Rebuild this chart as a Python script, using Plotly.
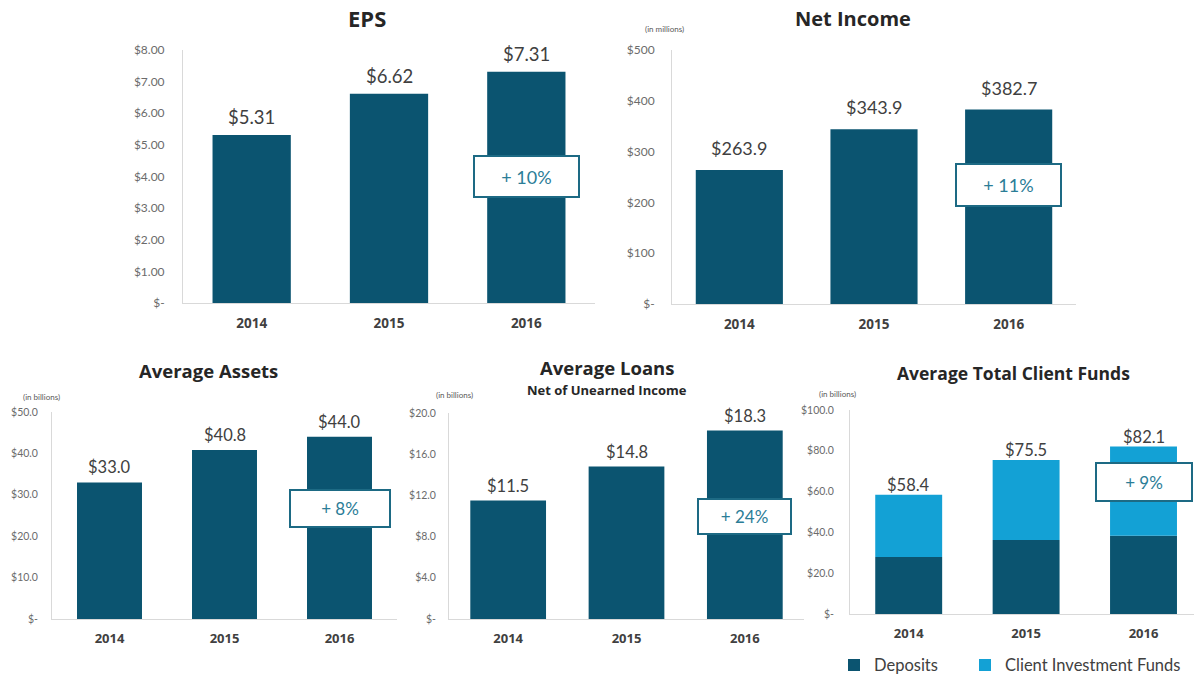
import plotly.graph_objects as go

W, H = 1194, 678

years = ["2014", "2015", "2016"]
eps = [5.31, 6.62, 7.31]
net_income = [263.9, 343.9, 382.7]
avg_assets = [33.0, 40.8, 44.0]
avg_loans = [11.5, 14.8, 18.3]
deposits = [28.0, 36.3, 38.4]
client_inv = [30.4, 39.2, 43.7]

eps_ticks = [0, 1, 2, 3, 4, 5, 6, 7, 8]
eps_tick_text = ["$-", "$1.00", "$2.00", "$3.00", "$4.00", "$5.00", "$6.00", "$7.00", "$8.00"]
ni_ticks = [0, 100, 200, 300, 400, 500]
ni_tick_text = ["$-", "$100", "$200", "$300", "$400", "$500"]
aa_ticks = [0, 10, 20, 30, 40, 50]
aa_tick_text = ["$-", "$10.0", "$20.0", "$30.0", "$40.0", "$50.0"]
al_ticks = [0, 4, 8, 12, 16, 20]
al_tick_text = ["$-", "$4.0", "$8.0", "$12.0", "$16.0", "$20.0"]
cf_ticks = [0, 20, 40, 60, 80, 100]
cf_tick_text = ["$-", "$20.0", "$40.0", "$60.0", "$80.0", "$100.0"]

eps_labels = ["$5.31", "$6.62", "$7.31"]
ni_labels = ["$263.9", "$343.9", "$382.7"]
aa_labels = ["$33.0", "$40.8", "$44.0"]
al_labels = ["$11.5", "$14.8", "$18.3"]
cf_labels = ["$58.4", "$75.5", "$82.1"]

growth = ["+ 10%", "+ 11%", "+ 8%", "+ 24%", "+ 9%"]

DARK = "#0b5470"
LIGHT = "#13a1d5"
TXT = "#404040"
TICK = "#6b6b6b"
AXLINE = "#d9d9d9"
BOX = "#1d6a84"
BOXTXT = "#2b7d97"
FONT = "Lato, 'Open Sans', sans-serif"
BOLDFONT = "'Open Sans', sans-serif"


def xd(a, b):
    return [a / W, b / W]


def yd(top, bottom):
    return [1 - bottom / H, 1 - top / H]


panels = [
    # key, x domain, y domain, y range, tick vals, tick text, x range, tick size, standoff
    ("", xd(183, 595), yd(50, 303), [0, 8], eps_ticks, eps_tick_text, [-0.5, 2.5], 12, 15),
    ("2", xd(672, 1076), yd(50, 304), [0, 500], ni_ticks, ni_tick_text, [-0.5, 2.5], 12, 14),
    ("3", xd(52, 397), yd(412, 619), [0, 50], aa_ticks, aa_tick_text, [-0.5, 2.5], 10.5, 11),
    ("4", xd(449, 804), yd(413, 619), [0, 20], al_ticks, al_tick_text, [-0.5, 2.5], 10.5, 10),
    ("5", xd(850, 1194), yd(410, 614), [0, 100], cf_ticks, cf_tick_text, [-0.5, 2.43], 10.5, 13),
]

fig = go.Figure()

common = dict(marker_line_width=0)
fig.add_trace(go.Bar(x=[0, 1, 2], y=eps, marker_color=DARK, width=0.57, showlegend=False,
                     xaxis="x", yaxis="y", **common))
fig.add_trace(go.Bar(x=[0, 1, 2], y=net_income, marker_color=DARK, width=0.647, showlegend=False,
                     xaxis="x2", yaxis="y2", **common))
fig.add_trace(go.Bar(x=[0, 1, 2], y=avg_assets, marker_color=DARK, width=0.565, showlegend=False,
                     xaxis="x3", yaxis="y3", **common))
fig.add_trace(go.Bar(x=[0, 1, 2], y=avg_loans, marker_color=DARK, width=0.64, showlegend=False,
                     xaxis="x4", yaxis="y4", **common))
fig.add_trace(go.Bar(x=[0, 1, 2], y=deposits, marker_color=DARK, width=0.57, name="Deposits",
                     xaxis="x5", yaxis="y5", legend="legend", **common))
fig.add_trace(go.Bar(x=[0, 1, 2], y=client_inv, base=deposits, marker_color=LIGHT, width=0.57,
                     name="Client Investment Funds", xaxis="x5", yaxis="y5", legend="legend2",
                     **common))

leg_common = dict(orientation="h", xanchor="left", yanchor="bottom", y=-0.007,
                  font=dict(size=16.5, color=TXT, family=FONT), itemwidth=30,
                  bgcolor="rgba(0,0,0,0)", borderwidth=0)

layout = dict(
    width=W, height=H,
    margin=dict(l=0, r=0, t=0, b=0, autoexpand=False),
    paper_bgcolor="white", plot_bgcolor="white",
    barmode="overlay",
    font=dict(family=FONT, color=TXT),
    showlegend=True,
    legend=dict(x=834 / W, **leg_common),
    legend2=dict(x=965 / W, **leg_common),
)

for key, xdom, ydom, yr, tv, tt, xr, tsize, standoff in panels:
    top = key in ("", "2")
    layout["xaxis" + key] = dict(
        domain=xdom, range=xr, anchor="y" + key, tickmode="array", tickvals=[0, 1, 2],
        ticktext=years, showgrid=False, zeroline=False, showline=True, linecolor=AXLINE,
        linewidth=1, ticks="", automargin=False,
        tickfont=dict(size=13.5 if top else 13, color=TXT, family=BOLDFONT, weight="bold"),
        ticklabelstandoff=8 if top else 7,
        fixedrange=True,
    )
    layout["yaxis" + key] = dict(
        domain=ydom, range=yr, anchor="x" + key, tickmode="array", tickvals=tv, ticktext=tt,
        showgrid=False, zeroline=False, showline=True, linecolor=AXLINE, linewidth=1,
        ticks="", automargin=False, tickfont=dict(size=tsize, color=TICK, family=FONT),
        ticklabelstandoff=standoff, fixedrange=True,
    )

fig.update_layout(**layout)

ann = []


def add_vals(key, vals, labels, size, shift):
    for i, (v, lab) in enumerate(zip(vals, labels)):
        ann.append(dict(x=i, y=v, xref="x" + key, yref="y" + key, text=lab, showarrow=False,
                        yanchor="bottom", yshift=shift,
                        font=dict(size=size, color=TXT, family=FONT)))


add_vals("", eps, eps_labels, 18.5, 5)
add_vals("2", net_income, ni_labels, 18, 9)
add_vals("3", avg_assets, aa_labels, 16.5, 3)
add_vals("4", avg_loans, al_labels, 16.5, 3)
totals = [d + c for d, c in zip(deposits, client_inv)]
add_vals("5", totals, cf_labels, 16.5, -2)

# growth boxes: axis key, y centre, inner width, inner height, font size
boxes = [
    ("", 4.0, 103, 39, 18),
    ("2", 234, 103, 40, 18),
    ("3", 26.7, 98, 35, 17),
    ("4", 9.95, 91, 33, 17),
    ("5", 64.7, 94, 36, 17),
]
for (key, yv, bw, bh, fs), g in zip(boxes, growth):
    ann.append(dict(x=2, y=yv, xref="x" + key, yref="y" + key, text=g, showarrow=False,
                    width=bw, height=bh, bgcolor="white", bordercolor=BOX, borderwidth=2,
                    borderpad=0, align="center", valign="middle",
                    font=dict(size=fs, color=BOXTXT, family=FONT)))


def title(text, x, y, size):
    ann.append(dict(x=x / W, y=1 - y / H, xref="paper", yref="paper", text=text,
                    showarrow=False, xanchor="center", yanchor="middle",
                    font=dict(size=size, color="#262626", family=BOLDFONT, weight="bold")))


title("EPS", 367, 18, 22)
title("Net Income", 853, 18, 20)
title("Average Assets", 208, 370, 18.5)
title("Average Loans", 607, 367, 18.5)
title("Net of Unearned Income", 607, 390, 13)
title("Average Total Client Funds", 1013, 373, 17.5)


def small(text, x, y):
    ann.append(dict(x=x / W, y=1 - y / H, xref="paper", yref="paper", text=text,
                    showarrow=False, xanchor="center", yanchor="middle",
                    font=dict(size=8, color="#595959", family=FONT)))


small("(in millions)", 665, 29)
small("(in billions)", 41, 397)
small("(in billions)", 454, 395)
small("(in billions)", 837, 394)

fig.update_layout(annotations=ann)

fig.write_html("out.html", config={"displayModeBar": False},
               post_script="document.body.style.margin='0';document.body.style.overflow='hidden';")
